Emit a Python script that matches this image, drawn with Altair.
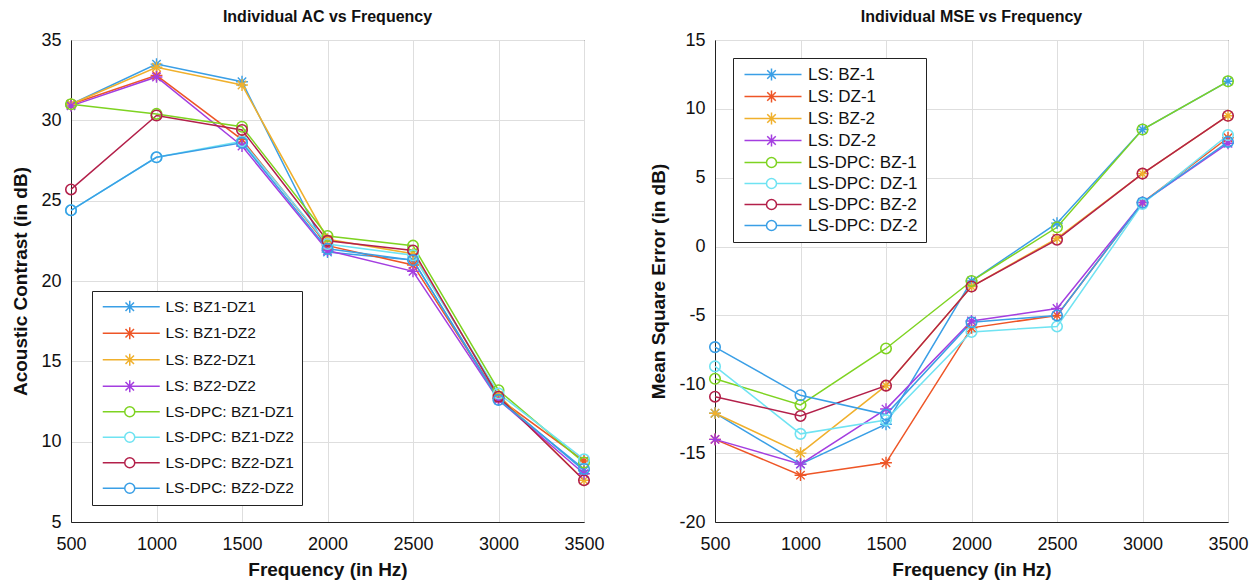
import altair as alt
import pandas as pd

freqs = [500, 1000, 1500, 2000, 2500, 3000, 3500]

# ---- Left panel: Acoustic Contrast ----
ac_names = ["LS: BZ1-DZ1", "LS: BZ1-DZ2", "LS: BZ2-DZ1", "LS: BZ2-DZ2",
            "LS-DPC: BZ1-DZ1", "LS-DPC: BZ1-DZ2", "LS-DPC: BZ2-DZ1", "LS-DPC: BZ2-DZ2"]
ac_ls_bz1_dz1 = [31.0, 33.5, 32.4, 21.8, 21.3, 12.7, 8.2]
ac_ls_bz1_dz2 = [31.0, 32.8, 28.8, 22.2, 21.0, 12.7, 8.8]
ac_ls_bz2_dz1 = [31.0, 33.3, 32.2, 22.6, 21.7, 12.9, 7.6]
ac_ls_bz2_dz2 = [30.9, 32.7, 28.4, 21.9, 20.6, 12.6, 8.0]
ac_dpc_bz1_dz1 = [31.0, 30.4, 29.6, 22.8, 22.2, 13.2, 8.7]
ac_dpc_bz1_dz2 = [24.4, 27.7, 28.7, 22.3, 21.6, 13.0, 8.9]
ac_dpc_bz2_dz1 = [25.7, 30.3, 29.4, 22.5, 21.9, 12.8, 7.6]
ac_dpc_bz2_dz2 = [24.4, 27.7, 28.6, 22.0, 21.3, 12.6, 8.3]
ac_values = [ac_ls_bz1_dz1, ac_ls_bz1_dz2, ac_ls_bz2_dz1, ac_ls_bz2_dz2,
             ac_dpc_bz1_dz1, ac_dpc_bz1_dz2, ac_dpc_bz2_dz1, ac_dpc_bz2_dz2]

# ---- Right panel: Mean Square Error ----
mse_names = ["LS: BZ-1", "LS: DZ-1", "LS: BZ-2", "LS: DZ-2",
             "LS-DPC: BZ-1", "LS-DPC: DZ-1", "LS-DPC: BZ-2", "LS-DPC: DZ-2"]
mse_ls_bz1 = [-12.1, -15.8, -12.9, -2.5, 1.7, 8.5, 12.0]
mse_ls_dz1 = [-14.0, -16.6, -15.7, -5.9, -5.0, 3.2, 7.9]
mse_ls_bz2 = [-12.1, -15.0, -10.1, -2.9, 0.6, 5.3, 9.5]
mse_ls_dz2 = [-14.0, -15.8, -11.8, -5.4, -4.5, 3.2, 7.5]
mse_dpc_bz1 = [-9.6, -11.5, -7.4, -2.5, 1.4, 8.5, 12.0]
mse_dpc_dz1 = [-8.7, -13.6, -12.6, -6.2, -5.8, 3.1, 8.1]
mse_dpc_bz2 = [-10.9, -12.3, -10.1, -2.9, 0.5, 5.3, 9.5]
mse_dpc_dz2 = [-7.3, -10.8, -12.2, -5.5, -5.0, 3.2, 7.6]
mse_values = [mse_ls_bz1, mse_ls_dz1, mse_ls_bz2, mse_ls_dz2,
              mse_dpc_bz1, mse_dpc_dz1, mse_dpc_bz2, mse_dpc_dz2]

colors = ["#3a9fe6", "#ee5526", "#f0b02c", "#a43ee0",
          "#7ed321", "#6fe3f2", "#b3204a", "#3a9fe6"]

FONT = "Liberation Sans"
STAR = "M-1,0L1,0M0,-1L0,1M-0.71,-0.71L0.71,0.71M-0.71,0.71L0.71,-0.71"
LEG_STAR = ("M-1,0L10.4,0M4.4,-1.2L4.4,1.2M3.55,-0.85L5.25,0.85M3.55,0.85L5.25,-0.85")
LEG_CIRC = ("M-1,0L3.4,0M5.4,0L10.4,0M5.4,0A1,1 0 1 1 3.4,0A1,1 0 1 1 5.4,0")


def make_df(names, values):
    rows = []
    for i, (n, vals) in enumerate(zip(names, values)):
        grp = "LS" if n.startswith("LS:") else "DPC"
        for f, v in zip(freqs, vals):
            rows.append({"freq": f, "value": v, "series": n, "group": grp, "idx": i})
    return pd.DataFrame(rows)


def panel(names, values, title, ytitle, ydom, yvals, lx, ly, rowpad, lfont):
    df = make_df(names, values)
    # the colour scale carries an extra unused entry so that its (disabled) legend
    # is not merged with the stroke/shape legend below
    cscale = alt.Scale(domain=names + ["_unused_"], range=colors + ["#000000"])
    kscale = alt.Scale(domain=names, range=colors)
    sscale = alt.Scale(domain=names,
                       range=[LEG_STAR if n.startswith("LS:") else LEG_CIRC for n in names])
    base = alt.Chart(df).encode(
        x=alt.X("freq:Q", scale=alt.Scale(domain=[500, 3500], nice=False),
                axis=alt.Axis(values=freqs, title="Frequency (in Hz)", format="d",
                              labelPadding=13, titlePadding=7, labelFlush=False)),
        y=alt.Y("value:Q", scale=alt.Scale(domain=ydom, nice=False),
                axis=alt.Axis(values=yvals, title=ytitle, labelPadding=10,
                              titlePadding=10, labelFlush=False,
                              labelExpr="replace(datum.label, '\u2212', '-')")),
    )
    col_nolegend = alt.Color("series:N", scale=cscale, legend=None)
    lines = base.mark_line(strokeWidth=1.5).encode(color=col_nolegend, detail="series:N")
    stars = base.transform_filter(alt.datum.group == "LS").mark_point(
        shape=STAR, filled=False, size=140, strokeWidth=1.4, opacity=1
    ).encode(color=col_nolegend)
    circles = base.transform_filter(alt.datum.group == "DPC").mark_point(
        shape="circle", filled=False, size=110, strokeWidth=1.6, opacity=1
    ).encode(color=col_nolegend)
    leg = dict(orient="none", legendX=lx, legendY=ly, title=None,
               fillColor="white", strokeColor="#222222", padding=8,
               labelFont=FONT, labelFontSize=lfont, labelColor="#111111",
               symbolSize=100, symbolStrokeWidth=1.5, symbolOpacity=1,
               labelOffset=50, rowPadding=rowpad, labelLimit=300)
    # invisible carrier layer for the legend (kept to a mid-plot frequency)
    legend_layer = base.transform_filter(alt.datum.freq == 2000).mark_point(
        opacity=0, filled=False, size=1
    ).encode(
        stroke=alt.Stroke("series:N", scale=kscale, legend=alt.Legend(**leg)),
        shape=alt.Shape("series:N", scale=sscale, legend=alt.Legend(**leg)),
    )
    return alt.layer(lines, stars, circles, legend_layer).properties(
        width=513, height=482,
        title=alt.Title(title, fontSize=16, fontWeight="bold", font=FONT,
                        anchor="middle", offset=6, color="#111111"),
    )


left = panel(ac_names, ac_values, "Individual AC vs Frequency",
             "Acoustic Contrast (in dB)", [5, 35], [5, 10, 15, 20, 25, 30, 35],
             21, 251, 7.5, 15.5)
right = panel(mse_names, mse_values, "Individual MSE vs Frequency",
              "Mean Square Error (in dB)", [-20, 15],
              [-20, -15, -10, -5, 0, 5, 10, 15], 18, 18, 3, 17)

chart = alt.hconcat(left, right, spacing=44).resolve_scale(
    color="independent", shape="independent", stroke="independent"
).resolve_legend(color="independent", shape="independent", stroke="independent").properties(
    padding={"left": 11, "top": 8, "right": 0, "bottom": 0},
    background="white",
).configure_view(
    stroke="#222222", strokeWidth=1, fill="white"
).configure_axis(
    labelFont=FONT, labelFontSize=18, labelColor="#111111",
    titleFont=FONT, titleFontSize=19, titleFontWeight="bold", titleColor="#111111",
    domainColor="#222222", domainWidth=1, ticks=False,
    gridColor="#dedede", gridWidth=1,
)

chart.save("out.html", embed_options={"renderer": "svg", "actions": False})
